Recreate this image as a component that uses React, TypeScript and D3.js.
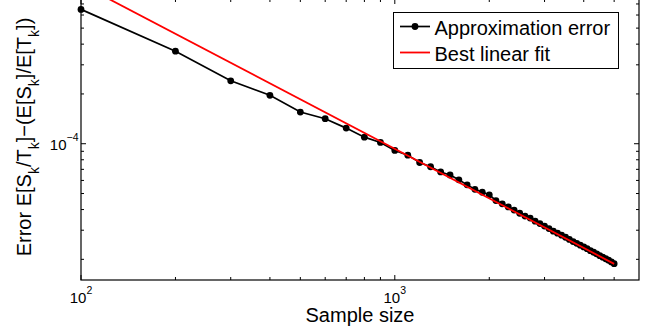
import React from 'react';
import * as d3 from 'd3';

const sampleSizes = [
  100, 200, 300, 400, 500, 600, 700, 800, 900, 1000,
  1100, 1200, 1300, 1400, 1500, 1600, 1700, 1800, 1900, 2000,
  2100, 2200, 2300, 2400, 2500, 2600, 2700, 2800, 2900, 3000,
  3100, 3200, 3300, 3400, 3500, 3600, 3700, 3800, 3900, 4000,
  4100, 4200, 4300, 4400, 4500, 4600, 4700, 4800, 4900, 5000,
];
const approxError = [
  6.49e-4, 3.626e-4, 2.402e-4, 1.962e-4, 1.554e-4, 1.417e-4, 1.243e-4, 1.096e-4, 1.018e-4, 9.11e-5,
  8.53e-5, 7.70e-5, 7.26e-5, 6.75e-5, 6.47e-5, 6.05e-5, 5.64e-5, 5.30e-5, 5.09e-5, 4.91e-5,
  4.53e-5, 4.33e-5, 4.15e-5, 3.97e-5, 3.80e-5, 3.65e-5, 3.55e-5, 3.40e-5, 3.29e-5, 3.18e-5,
  3.07e-5, 2.96e-5, 2.88e-5, 2.80e-5, 2.72e-5, 2.64e-5, 2.56e-5, 2.50e-5, 2.435e-5, 2.378e-5,
  2.319e-5, 2.255e-5, 2.208e-5, 2.157e-5, 2.104e-5, 2.061e-5, 2.017e-5, 1.976e-5, 1.930e-5, 1.882e-5,
];
const fitSizes = [100, 5000];
const fitValues = [9.2e-4, 1.878e-5];

const xMajorTicks = [100, 1000];
const xMinorTicks = [200, 300, 400, 500, 600, 700, 800, 900, 2000, 3000, 4000, 5000];
const xTickExponents = ['2', '3'];
const yMajorTicks = [1e-4];
const yMinorTicks = [2e-5, 3e-5, 4e-5, 5e-5, 6e-5, 7e-5, 8e-5, 9e-5, 2e-4, 3e-4, 4e-4, 5e-4, 6e-4, 7e-4];
const yTickExponents = ['\u22124'];

const legendLabels = ['Approximation error', 'Best linear fit'];
const xLabel = 'Sample size';

const FONT = '"Liberation Sans", Arial, Helvetica, sans-serif';

export default function App() {
  const L = 81, R = 639, T = -1, B = 280;
  const x = d3.scaleLog().domain([100, 6000]).range([L, R]);
  const y = d3.scaleLog().domain([1.5e-5, 7.5e-4]).range([B, T]);

  const pts: [number, number][] = sampleSizes.map((s, i) => [s, approxError[i]]);
  const fitPts: [number, number][] = fitSizes.map((s, i) => [s, fitValues[i]]);
  const line = d3.line<[number, number]>().x(d => x(d[0])).y(d => y(d[1]));

  const majLen = 5, minLen = 3;

  return (
    <svg width={650} height={334} style={{ position: 'absolute', left: 0, top: 0, background: '#fff' }} fontFamily={FONT}>
      <rect x={0} y={0} width={650} height={334} fill="#fff" />
      <defs>
        <clipPath id="plotclip">
          <rect x={L} y={T} width={R - L} height={B - T} />
        </clipPath>
      </defs>

      {/* ticks */}
      <g stroke="#000" strokeWidth={1}>
        {xMajorTicks.map(t => (
          <g key={'xm' + t}>
            <line x1={x(t)} x2={x(t)} y1={B} y2={B - majLen} />
            <line x1={x(t)} x2={x(t)} y1={T} y2={T + majLen} />
          </g>
        ))}
        {xMinorTicks.map(t => (
          <g key={'xn' + t}>
            <line x1={x(t)} x2={x(t)} y1={B} y2={B - minLen} />
            <line x1={x(t)} x2={x(t)} y1={T} y2={T + minLen} />
          </g>
        ))}
        {yMajorTicks.map(t => (
          <g key={'ym' + t}>
            <line x1={L} x2={L + majLen} y1={y(t)} y2={y(t)} />
            <line x1={R} x2={R - majLen} y1={y(t)} y2={y(t)} />
          </g>
        ))}
        {yMinorTicks.map(t => (
          <g key={'yn' + t}>
            <line x1={L} x2={L + minLen} y1={y(t)} y2={y(t)} />
            <line x1={R} x2={R - minLen} y1={y(t)} y2={y(t)} />
          </g>
        ))}
      </g>

      {/* approximation error */}
      <path d={line(pts) || ''} fill="none" stroke="#000" strokeWidth={1.7} />
      {pts.map((d, i) => (
        <circle key={i} cx={x(d[0])} cy={y(d[1])} r={3.4} fill="#000" />
      ))}
      {/* fit line (drawn on top, as in reference) */}
      <path d={line(fitPts) || ''} fill="none" stroke="#ff0000" strokeWidth={1.8} clipPath="url(#plotclip)" />

      {/* axes box */}
      <rect x={L} y={T} width={R - L} height={B - T} fill="none" stroke="#000" strokeWidth={1.2} />

      {/* x tick labels */}
      {xMajorTicks.map((t, i) => (
        <text key={'xl' + t} x={x(t)} y={302.5} fontSize={15} textAnchor="middle" fill="#000">
          10<tspan fontSize={10.5} dy={-9}>{xTickExponents[i]}</tspan>
        </text>
      ))}
      {/* y tick labels */}
      {yMajorTicks.map((t, i) => (
        <text key={'yl' + t} x={78.5} y={y(t) + 6.5} fontSize={15} textAnchor="end" fill="#000">
          10<tspan fontSize={10.5} dy={-9}>{yTickExponents[i]}</tspan>
        </text>
      ))}

      {/* axis labels */}
      <text x={(L + R) / 2} y={322} fontSize={20} textAnchor="middle" fill="#000">{xLabel}</text>
      <text transform="translate(31,137) rotate(-90)" fontSize={20} textAnchor="middle" fill="#000">
        Error E[S<tspan fontSize={14} dy={8}>k</tspan><tspan dy={-8}>/T</tspan>
        <tspan fontSize={14} dy={8}>k</tspan><tspan dy={-8}>]{'\u2212'}(E[S</tspan>
        <tspan fontSize={14} dy={8}>k</tspan><tspan dy={-8}>]/E[T</tspan>
        <tspan fontSize={14} dy={8}>k</tspan><tspan dy={-8}>])</tspan>
      </text>

      {/* legend */}
      <g>
        <rect x={393.5} y={12.5} width={225} height={56} fill="#fff" stroke="#000" strokeWidth={1} />
        <line x1={400} x2={430} y1={26.5} y2={26.5} stroke="#000" strokeWidth={1.7} />
        <circle cx={415} cy={26.5} r={3.4} fill="#000" />
        <text x={434.5} y={35} fontSize={20} fill="#000">{legendLabels[0]}</text>
        <line x1={400} x2={430} y1={52.5} y2={52.5} stroke="#ff0000" strokeWidth={1.8} />
        <text x={434.5} y={60.5} fontSize={20} fill="#000">{legendLabels[1]}</text>
      </g>
    </svg>
  );
}
